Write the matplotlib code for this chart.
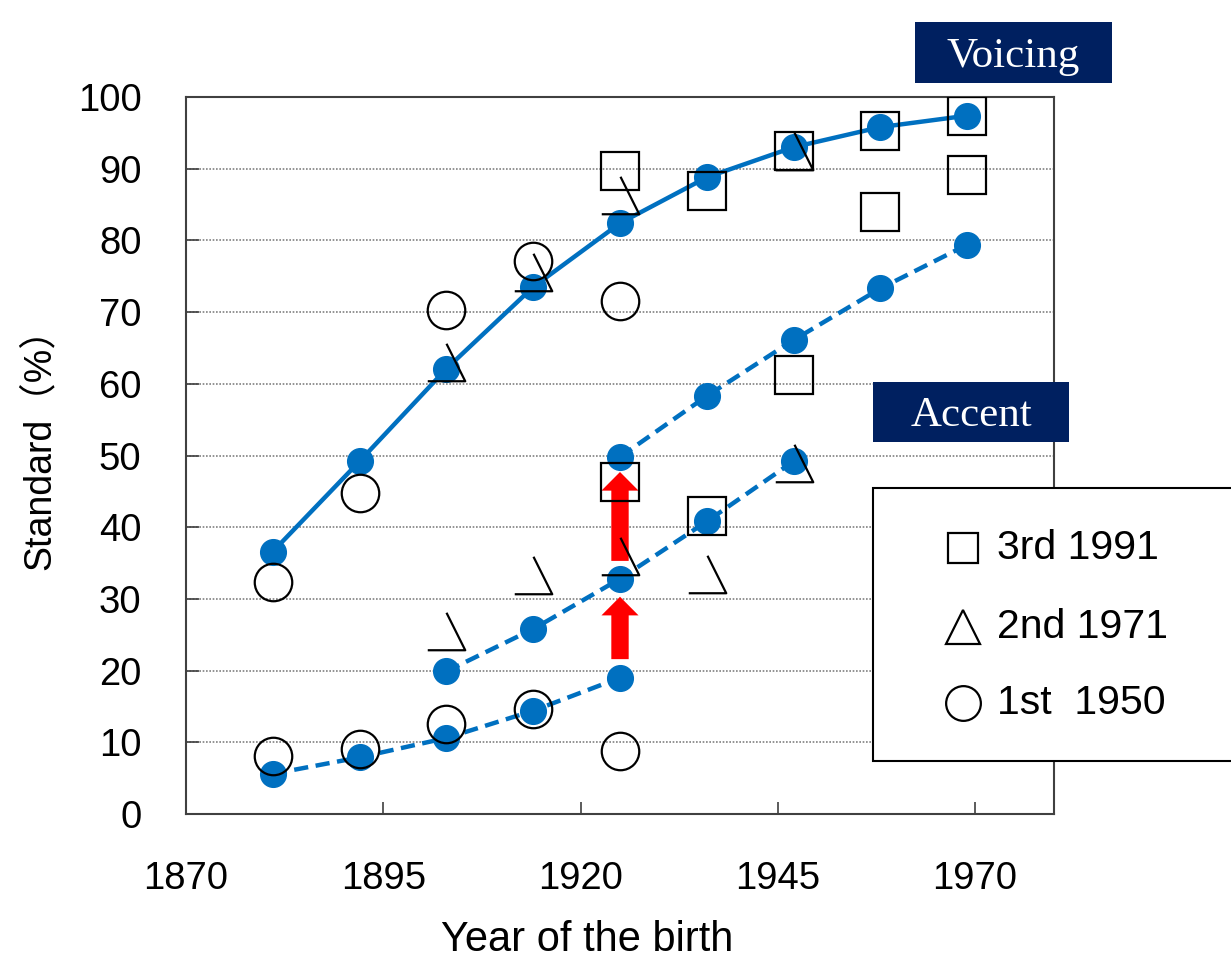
import matplotlib
matplotlib.use("Agg")
import matplotlib.pyplot as plt
from matplotlib.path import Path
from matplotlib.patches import Rectangle, FancyArrow

# ---------------- data ----------------
# fitted (blue) curves
voicing_fit_x = [1881, 1892, 1903, 1914, 1925, 1936, 1947, 1958, 1969]
voicing_fit_y = [36.6, 49.2, 62.1, 73.5, 82.4, 88.8, 93.0, 95.8, 97.4]

accent1_fit_x = [1881, 1892, 1903, 1914, 1925]
accent1_fit_y = [5.6, 7.9, 10.6, 14.4, 19.0]
accent2_fit_x = [1903, 1914, 1925, 1936, 1947]
accent2_fit_y = [19.9, 25.8, 32.8, 40.8, 49.2]
accent3_fit_x = [1925, 1936, 1947, 1958, 1969]
accent3_fit_y = [49.8, 58.3, 66.1, 73.3, 79.4]

# observed values, 1st survey 1950 (circles)
v1_x = [1881, 1892, 1903, 1914, 1925]
v1_y = [32.3, 44.8, 70.3, 77.1, 71.6]
a1_x = [1881, 1892, 1903, 1914, 1925]
a1_y = [8.1, 9.1, 12.6, 14.7, 8.8]

# 2nd survey 1971 (triangles)
v2_x = [1903, 1914, 1925, 1947]
v2_y = [63.0, 75.6, 86.3, 92.5]
a2_x = [1903, 1914, 1925, 1936, 1947]
a2_y = [25.5, 33.4, 36.0, 33.5, 49.0]

# 3rd survey 1991 (squares)
v3_x = [1925, 1936, 1947, 1958, 1969]
v3_y = [89.7, 86.9, 92.5, 95.2, 97.3]
a3_x = [1925, 1936, 1947, 1958, 1969]
a3_y = [46.3, 41.6, 61.2, 84.0, 89.1]

# red arrows (year, from, to)
arrows = [(1925, 21.6, 30.3), (1925, 35.3, 47.7)]

legend_labels = ["3rd 1991", "2nd 1971", "1st  1950"]
x_ticks = [1870, 1895, 1920, 1945, 1970]
y_ticks = list(range(0, 101, 10))

# ---------------- style ----------------
W, H = 1231, 960
plt.rcParams['font.family'] = ['Liberation Sans', 'Noto Sans CJK JP', 'DejaVu Sans']
BLUE = '#0070C0'
NAVY = '#002060'

fig = plt.figure(figsize=(W / 100, H / 100), dpi=100)
ax = fig.add_axes([186 / W, 1 - 814 / H, (1054 - 186) / W, (814 - 97) / H])
ax.set_xlim(1870, 1980)
ax.set_ylim(0, 100)
ax.set_xticks(x_ticks)
ax.set_yticks(y_ticks)
ax.tick_params(direction='in', length=9, width=1.2, labelsize=27.5, colors='#404040', labelcolor='black')
ax.tick_params(axis='x', pad=34)
ax.tick_params(axis='y', pad=32)
ax.yaxis.grid(True, linestyle=(0, (1, 1)), color='#808080', linewidth=1.2)
ax.set_axisbelow(True)
for s in ax.spines.values():
    s.set_color('#404040')
    s.set_linewidth(1.5)

fig.text(587 / W, 1 - 940 / H, 'Year of the birth', fontsize=30, ha='center', va='center')
fig.text(40 / W, 1 - 440 / H, 'Standard（%）', fontsize=27, ha='center', va='center', rotation=90)

# open triangle marker (apex -> bottom right -> bottom left)
tri = Path([(0, 0.5), (0.5, -0.5), (-0.5, -0.5)], [Path.MOVETO, Path.LINETO, Path.LINETO])

# blue lines
ax.plot(voicing_fit_x, voicing_fit_y, color=BLUE, lw=3.2, marker='o', ms=18.5, zorder=3,
        solid_capstyle='round')
for fx, fy in [(accent1_fit_x, accent1_fit_y), (accent2_fit_x, accent2_fit_y), (accent3_fit_x, accent3_fit_y)]:
    ax.plot(fx, fy, color=BLUE, lw=3.2, ls=(0, (3.2, 1.7)), marker='o', ms=18.5, zorder=3)

# arrows
for xa, y0, y1 in arrows:
    ax.add_patch(FancyArrow(xa, y0, 0, y1 - y0, width=2.2, head_width=4.7, head_length=2.6,
                            length_includes_head=True, color='#FF0000', lw=0, zorder=2.8))

# observed markers
common = dict(ls='none', mfc='none', mec='black', mew=1.6, zorder=4)
ax.plot(v1_x, v1_y, marker='o', ms=27, **common)
ax.plot(a1_x, a1_y, marker='o', ms=27, **common)
ax.plot(v2_x, v2_y, marker=tri, ms=27, **common)
ax.plot(a2_x, a2_y, marker=tri, ms=27, **common)
ax.plot(v3_x, v3_y, marker='s', ms=27, **common)
ax.plot(a3_x, a3_y, marker='s', ms=27, **common)

# title boxes
def fbox(x0, y0, x1, y1, text):
    fig.patches.append(Rectangle((x0 / W, 1 - y1 / H), (x1 - x0) / W, (y1 - y0) / H,
                                 transform=fig.transFigure, facecolor=NAVY, edgecolor='none', zorder=5))
    fig.text((x0 + x1) / 2 / W, 1 - ((y0 + y1) / 2 + 4) / H, text, color='white', fontsize=31,
             family=['Liberation Serif', 'DejaVu Serif'], ha='center', va='center', zorder=6)

fbox(915, 22, 1112, 83, 'Voicing')
fbox(873, 382, 1069, 442, 'Accent')

# legend box
fig.patches.append(Rectangle((873 / W, 1 - 761 / H), (1240 - 873) / W, (761 - 488) / H,
                             transform=fig.transFigure, facecolor='white', edgecolor='black',
                             lw=1.5, zorder=5))
leg_markers = ['s', '^', 'o']
leg_sizes = [22, 24, 25]
leg_y = [548, 627, 703]
for m, sz, yy, lab in zip(leg_markers, leg_sizes, leg_y, legend_labels):
    fig.lines.append(plt.Line2D([963 / W], [1 - yy / H], transform=fig.transFigure, marker=m,
                                ms=sz, mfc='none', mec='black', mew=1.6, ls='none', zorder=6))
    fig.text(997 / W, 1 - yy / H, lab, fontsize=29.5, ha='left', va='center', zorder=6)

fig.savefig('out.png', dpi=100)
